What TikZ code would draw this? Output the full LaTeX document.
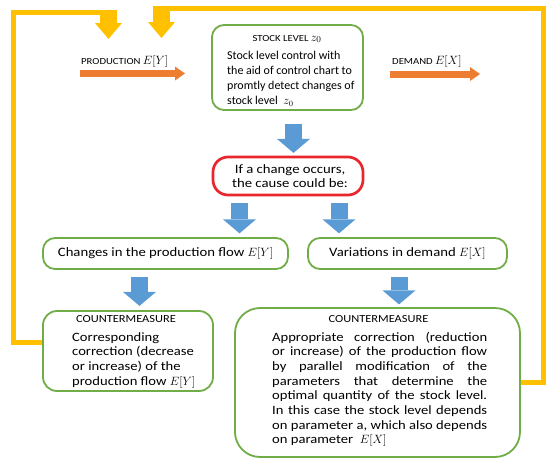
\documentclass[tikz,border=0pt]{standalone}
\usepackage{fontspec}
\setmainfont{Carlito}
\newfontfamily\wfont{Carlito}[FakeStretch=1.15]
\usetikzlibrary{arrows.meta,calc}
\definecolor{boxgreen}{HTML}{70AD47}
\definecolor{bluearr}{HTML}{5B9BD5}
\definecolor{orangearr}{HTML}{ED7D31}
\definecolor{yel}{HTML}{FFC000}
\definecolor{redbox}{HTML}{E8262B}
\newcommand\capfont{\wfont\fontsize{9.3}{11}\selectfont}
\newcommand\headfont{\wfont\fontsize{10.8}{12}\selectfont}
\newcommand\mathlab{\fontsize{12.5}{14}\selectfont}
\newcommand\stockfont{\fontsize{12}{15.2}\selectfont}
\newcommand\midfont{\wfont\fontsize{12.8}{14.2}\selectfont}
\newcommand\bodyfont{\wfont\fontsize{12.7}{14.7}\selectfont}
\begin{document}
\begin{tikzpicture}[x=1pt,y=-1pt,
  gbox/.style={draw=boxgreen,line width=1.8pt,rounded corners=12pt,inner sep=0pt,fill=white},
  rbox/.style={draw=redbox,line width=2.7pt,rounded corners=15pt,inner sep=0pt,fill=white},
  txt/.style={inner sep=0pt},
  barrow/.style={draw=bluearr,line width=17pt,-{Triangle[length=14pt,width=33pt,line width=0pt]}},
  oarrow/.style={draw=orangearr,line width=7pt,-{Triangle[length=10pt,width=14pt,line width=0pt]}},
  yline/.style={draw=yel,line width=5pt},
  yarrow/.style={draw=yel,line width=17pt,-{Triangle[length=16pt,width=27pt,line width=0pt]}}]
\useasboundingbox (0,0) rectangle (550,467);

% boxes
\node[gbox,minimum width=151pt,minimum height=85pt] (stock) at (287.5,67.5) {};
\node[rbox,minimum width=150pt,minimum height=38pt] (red) at (288,176) {};
\node[gbox,minimum width=245pt,minimum height=31pt] (chg) at (165.5,253.5) {\midfont Changes in the production flow $E[Y]$};
\node[gbox,minimum width=199pt,minimum height=31pt] (var) at (407.5,253.5) {\midfont Variations in demand $E[X]$};
\node[gbox,minimum width=170pt,minimum height=80pt,rounded corners=14pt] (lcm) at (128,351) {};
\node[gbox,minimum width=285pt,minimum height=149pt,rounded corners=25pt] (rcm) at (377.5,382.5) {};

% texts
\node[txt,anchor=base west] (prod) at (81,64) {{\capfont PRODUCTION} {\mathlab$E[Y]$}};
\node[txt,anchor=base west] (dem) at (392,64) {{\capfont DEMAND} {\mathlab$E[X]$}};
\node[txt,anchor=base] (stockhead) at (287,41) {{\capfont STOCK LEVEL} {\mathlab$z_0$}};
\node[txt,anchor=base west] (stocktxt) at (227,59) {\stockfont\begin{tabular}[t]{@{}l@{}}
Stock level control with\\
the aid of control chart to\\
promtly detect changes of\\
stock level \ $z_0$\end{tabular}};
\node[txt,anchor=base] (redtxt) at (290,173) {\midfont\begin{tabular}[t]{@{}c@{}}
If a change occurs,\\
the cause could be:\end{tabular}};
\node[txt,anchor=base] (lhead) at (126,322) {\headfont COUNTERMEASURE};
\node[txt,anchor=base west] (ltxt) at (72,341) {\bodyfont\begin{tabular}[t]{@{}l@{}}
Corresponding\\
correction (decrease\\
or increase) of the\\
production flow $E[Y]$\end{tabular}};
\node[txt,anchor=base] (rhead) at (378.5,322) {\headfont COUNTERMEASURE};
\node[txt,anchor=base west] (rtxt) at (272,341) {\bodyfont\begin{tabular}[t]{@{}l@{}}
\makebox[215pt][s]{Appropriate correction (reduction}\\
\makebox[215pt][s]{or increase) of the production flow}\\
\makebox[215pt][s]{by parallel modification of the}\\
\makebox[215pt][s]{parameters that determine the}\\
\makebox[215pt][s]{optimal quantity of the stock level.}\\
\makebox[215pt][s]{In this case the stock level depends}\\
\makebox[215pt][s]{on parameter a, which also depends}\\
on parameter \ $E[X]$\end{tabular}};

% orange arrows
\coordinate (p1) at (80,73.5);
\coordinate (p2) at (185,73.5);
\coordinate (d1) at (390,74);
\coordinate (d2) at (480,74);
\draw[oarrow] (p1) -- (p2);
\draw[oarrow] (d1) -- (d2);

% blue arrows
\draw[barrow] ($(stock.south)+(6,13)$) -- ++(0,29);
\draw[barrow] ($(red.south)+(-48.5,7)$) -- ++(0,30);
\draw[barrow] ($(red.south)+(51,7)$) -- ++(0,30);
\draw[barrow] ($(chg.south)+(-26,7)$) -- ++(0,29);
\draw[barrow] ($(var.south)+(-8.5,7.5)$) -- ++(0,27);

% yellow feedback loops
\draw[yline] ($(lcm.west)+(0,-9)$) -| (13.5,12) -- (101,12);
\draw[yarrow] (108.5,9.5) -- (108.5,39);
\draw[yline] (rcm.east) -| (543,8.5) -- (165,8.5);
\draw[yarrow] (161.5,6) -- (161.5,38);
\end{tikzpicture}
\end{document}
